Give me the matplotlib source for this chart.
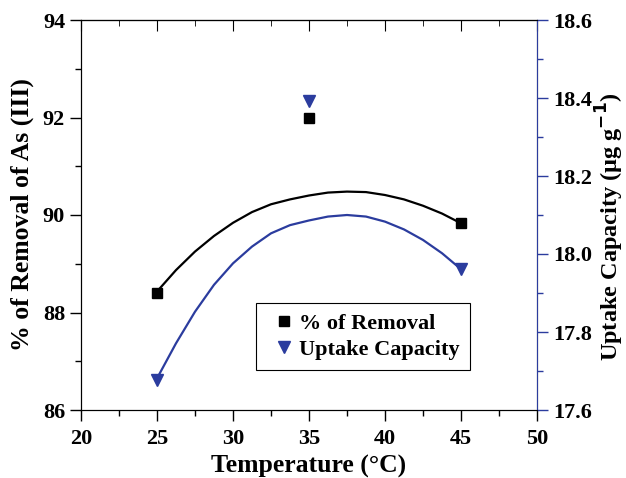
import numpy as np
import matplotlib.pyplot as plt
from matplotlib.ticker import MultipleLocator
from matplotlib.lines import Line2D

plt.rcParams['font.family'] = ['Liberation Serif', 'DejaVu Serif']
plt.rcParams['font.weight'] = 'bold'

# measured points
temp = [25, 35, 45]
removal = [88.39, 91.98, 89.84]
uptake = [17.678, 18.393, 17.962]

# fitted curves
curve_t = [25, 26.25, 27.5, 28.75, 30, 31.25, 32.5, 33.75, 35,
           36.25, 37.5, 38.75, 40, 41.25, 42.5, 43.75, 45]
removal_fit = [88.43, 88.87, 89.25, 89.57, 89.84, 90.06, 90.22, 90.32, 90.40,
               90.46, 90.48, 90.47, 90.41, 90.32, 90.19, 90.03, 89.83]
uptake_fit = [17.681, 17.771, 17.852, 17.921, 17.976, 18.019, 18.053, 18.074, 18.086,
              18.096, 18.100, 18.096, 18.083, 18.063, 18.036, 18.002, 17.961]

blue = '#2b3c9e'

fig = plt.figure(figsize=(6.26, 4.78), dpi=100)
ax = fig.add_axes([81/626, 68/478, 456/626, 390/478])
ax2 = ax.twinx()

ax.plot(curve_t, removal_fit, color='black', lw=1.6)
ax.plot(temp, removal, 's', color='black', ms=6.5)
ax2.plot(curve_t, uptake_fit, color=blue, lw=1.6)
ax2.plot(temp, uptake, 'v', color=blue, ms=8)

ax.set_xlim(20, 50)
ax.set_ylim(86, 94)
ax2.set_ylim(17.6, 18.6)

ax.xaxis.set_major_locator(MultipleLocator(5))
ax.xaxis.set_minor_locator(MultipleLocator(2.5))
ax.yaxis.set_major_locator(MultipleLocator(2))
ax.yaxis.set_minor_locator(MultipleLocator(1))
ax2.yaxis.set_major_locator(MultipleLocator(0.2))
ax2.yaxis.set_minor_locator(MultipleLocator(0.1))
ax2.yaxis.set_major_formatter(plt.FormatStrFormatter('%.1f'))

ax.tick_params(axis='both', which='both', direction='out', labelsize=16, top=False)
ax.tick_params(which='major', length=8, width=1)
ax.tick_params(which='minor', length=4, width=1)
ax.tick_params(axis='x', which='major', pad=6)
ax2.tick_params(axis='y', which='both', direction='out', color=blue, labelsize=16)
ax2.tick_params(which='major', length=8, width=1)
ax2.tick_params(which='minor', length=4, width=1)
ax2.spines['right'].set_color(blue)

# top axis: ticks pointing inward, no labels
top = ax.secondary_xaxis('top')
top.xaxis.set_major_locator(MultipleLocator(5))
top.xaxis.set_minor_locator(MultipleLocator(2.5))
top.tick_params(which='both', direction='in', labeltop=False)
top.tick_params(which='major', length=8)
top.tick_params(which='minor', length=4)

for lab in ax.get_xticklabels() + ax.get_yticklabels() + ax2.get_yticklabels():
    lab.set_fontweight('bold')

ax.set_xlabel('Temperature (°C)', fontsize=18.5, fontweight='bold', labelpad=4)
ax.set_ylabel('% of Removal of As (III)', fontsize=18.5, fontweight='bold', labelpad=6)
ax2.set_ylabel('Uptake Capacity (μg g$^{\\mathbf{-1}}$)', fontsize=17.5, fontweight='bold')
ax2.yaxis.set_label_coords(1.124, 0.47)

handles = [Line2D([], [], ls='', marker='s', color='black', ms=6.5),
           Line2D([], [], ls='', marker='v', color=blue, ms=8)]
leg = ax.legend(handles, ['% of Removal', 'Uptake Capacity'],
                loc='upper left', bbox_to_anchor=(256/626, 1 - 303/478), bbox_transform=fig.transFigure,
                borderaxespad=0, prop={'size': 16, 'weight': 'bold'}, fancybox=False, framealpha=1,
                edgecolor='black', handletextpad=-0.1, handlelength=1.6, borderpad=0.45,
                labelspacing=0.25)
leg.get_frame().set_linewidth(0.8)

fig.savefig('out.png', dpi=100)
